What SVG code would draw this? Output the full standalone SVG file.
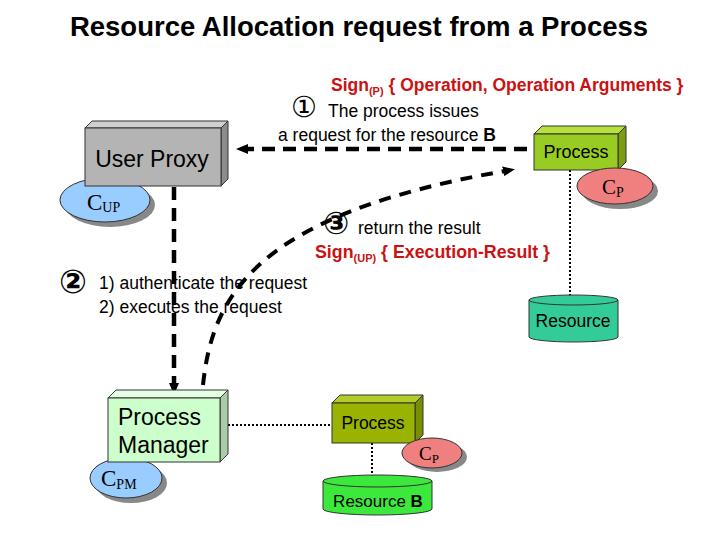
<svg xmlns="http://www.w3.org/2000/svg" width="720" height="540" viewBox="0 0 720 540">
<defs>
<style>
.s{font-family:"Liberation Sans",Arial,sans-serif;fill:#000}
.b{font-weight:bold}
.red{fill:#cc1111;font-weight:bold}
.serif{font-family:"Liberation Serif","Times New Roman",serif;fill:#000}
.num{font-family:"DejaVu Sans",sans-serif;fill:#000}
.edge{fill:none;stroke:#000}
.dash{stroke-width:4.5;stroke-dasharray:13 8}
.dot{stroke-width:2;stroke-dasharray:2 2}
.ol{stroke:#333;stroke-width:1}
.shadow{fill:#888}
</style>
<marker id="ah" viewBox="0 0 12 10" refX="2" refY="5" markerWidth="12" markerHeight="10" markerUnits="userSpaceOnUse" orient="auto">
<path d="M0,0 L12,5 L0,10 z" fill="#000"/>
</marker>
</defs>
<rect width="720" height="540" fill="#fff"/>

<text class="s b" x="359" y="36" font-size="27.5" text-anchor="middle">Resource Allocation request from a Process</text>

<g id="connectors">
<path class="edge dash" d="M527,149 L246,149" marker-end="url(#ah)"/>
<path class="edge dash" d="M174,187 L174,385" marker-end="url(#ah)"/>
<path class="edge" stroke-width="4" stroke-dasharray="12 9" d="M203,385 C212,300 250,215 505,171" marker-end="url(#ah)"/>
<path class="edge dot" d="M570,170 L570,296"/>
<path class="edge dot" d="M228,425 L332,425"/>
<path class="edge dot" d="M372,443 L372,477"/>
</g>

<g id="labels">
<text class="s red" x="331" y="91" font-size="17.5">Sign<tspan font-size="11" dy="4">(P)</tspan><tspan dy="-4"> { Operation, Operation Arguments }</tspan></text>
<text class="num" x="291" y="117" font-size="29">①</text>
<text class="s" x="328" y="117" font-size="17.5">The process issues</text>
<text class="s" x="278" y="141" font-size="17.5">a request for the resource <tspan class="b">B</tspan></text>
<text class="num b" x="323" y="234" font-size="31">③</text>
<text class="s" x="358" y="234" font-size="17.5">return the result</text>
<text class="s red" x="315" y="258" font-size="17.8">Sign<tspan font-size="11" dy="4">(UP)</tspan><tspan dy="-4"> { Execution-Result }</tspan></text>
<text class="num b" x="59" y="293" font-size="33">②</text>
<text class="s" x="99" y="289" font-size="17.5">1) authenticate the request</text>
<text class="s" x="99" y="313" font-size="17.5">2) executes the request</text>
</g>

<g id="c-up">
<ellipse class="shadow" cx="110" cy="205" rx="45" ry="22"/>
<ellipse cx="105" cy="200" rx="45" ry="22" fill="#99ccff" stroke="#333"/>
<text class="serif" x="87" y="210" font-size="23">C<tspan font-size="14" dy="2">UP</tspan></text>
</g>
<g id="user-proxy">
<polygon points="85,128 92,121 228,121 221,128" fill="#d0d0d0" class="ol"/>
<polygon points="221,128 228,121 228,179 221,186" fill="#8c8c8c" class="ol"/>
<rect x="85" y="128" width="136" height="58" fill="#b4b4b4" class="ol"/>
<text class="s" x="152" y="167" font-size="23" text-anchor="middle">User Proxy</text>
</g>

<g id="process-top">
<polygon points="534,134 542,126 626,126 618,134" fill="#b8e03a" class="ol"/>
<polygon points="618,134 626,126 626,162 618,170" fill="#7a9e10" class="ol"/>
<rect x="534" y="134" width="84" height="36" fill="#99cc22" class="ol"/>
<text class="s" x="576" y="158" font-size="18" text-anchor="middle">Process</text>
</g>
<g id="cp-top">
<ellipse class="shadow" cx="620" cy="191" rx="38" ry="18"/>
<ellipse cx="615" cy="186" rx="38" ry="18" fill="#f08080" stroke="#333"/>
<text class="serif" x="602" y="194" font-size="21">C<tspan font-size="14" dy="3">P</tspan></text>
</g>

<g id="resource">
<path d="M529,300 L529,337 A44.5,5 0 0 0 618,337 L618,300 Z" fill="#33cc99" class="ol"/>
<ellipse cx="573.5" cy="300" rx="44.5" ry="5" fill="#33cc99" class="ol"/>
<text class="s" x="573" y="327" font-size="17.5" text-anchor="middle">Resource</text>
</g>

<g id="c-pm">
<ellipse class="shadow" cx="131" cy="483" rx="36" ry="20"/>
<ellipse cx="126" cy="478" rx="36" ry="20" fill="#99ccff" stroke="#333"/>
<text class="serif" x="101" y="486" font-size="23">C<tspan font-size="14" dy="3">PM</tspan></text>
</g>
<g id="process-manager">
<polygon points="108,398 116,390 228,390 220,398" fill="#e4ffe4" class="ol"/>
<polygon points="220,398 228,390 228,454 220,462" fill="#a8cca8" class="ol"/>
<rect x="108" y="398" width="112" height="64" fill="#ccffcc" class="ol"/>
<text class="s" x="118" y="425" font-size="23">Process</text>
<text class="s" x="118" y="453" font-size="23">Manager</text>
</g>

<g id="process-bottom">
<polygon points="332,403 340,395 423,395 415,403" fill="#b4cc2a" class="ol"/>
<polygon points="415,403 423,395 423,435 415,443" fill="#7a8f00" class="ol"/>
<rect x="332" y="403" width="83" height="40" fill="#99b300" class="ol"/>
<text class="s" x="373" y="429" font-size="17.5" text-anchor="middle">Process</text>
</g>
<g id="cp-bottom">
<ellipse class="shadow" cx="437" cy="457" rx="30" ry="15"/>
<ellipse cx="432" cy="453" rx="30" ry="15" fill="#f08080" stroke="#333"/>
<text class="serif" x="419" y="460" font-size="19">C<tspan font-size="13" dy="3">P</tspan></text>
</g>

<g id="resource-b">
<path d="M323,481 L323,509 A54.5,6 0 0 0 432,509 L432,481 Z" fill="#3be83b" class="ol"/>
<ellipse cx="377.5" cy="481" rx="54.5" ry="6" fill="#3be83b" class="ol"/>
<text class="s" x="378" y="507" font-size="17" text-anchor="middle">Resource <tspan class="b">B</tspan></text>
</g>
</svg>
